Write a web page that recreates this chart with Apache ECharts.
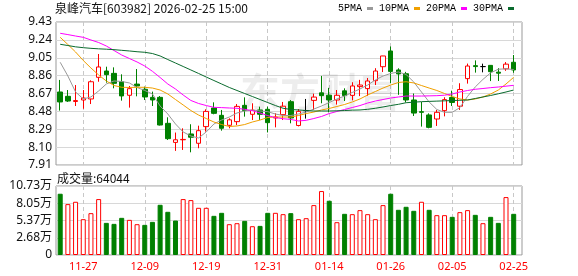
<!DOCTYPE html>
<html><head><meta charset="utf-8">
<script src="https://cdn.jsdelivr.net/npm/echarts@6/dist/echarts.min.js"></script>
<style>html,body{margin:0;padding:0;background:#fff}#c{width:578px;height:276px}</style>
</head><body><div id="c"></div>
<script>
const stockTitle = '泉峰汽车[603982] 2026-02-25 15:00';
const dates = ['2025-11-24','2025-11-25','2025-11-26','2025-11-27','2025-11-28','2025-12-01','2025-12-02','2025-12-03','2025-12-04','2025-12-05',
'2025-12-08','2025-12-09','2025-12-10','2025-12-11','2025-12-12','2025-12-15','2025-12-16','2025-12-17','2025-12-18','2025-12-19',
'2025-12-22','2025-12-23','2025-12-24','2025-12-25','2025-12-26','2025-12-29','2025-12-30','2025-12-31','2026-01-05','2026-01-06',
'2026-01-07','2026-01-08','2026-01-09','2026-01-12','2026-01-13','2026-01-14','2026-01-15','2026-01-16','2026-01-19','2026-01-20',
'2026-01-21','2026-01-22','2026-01-23','2026-01-26','2026-01-27','2026-01-28','2026-01-29','2026-01-30','2026-02-02','2026-02-03',
'2026-02-04','2026-02-05','2026-02-06','2026-02-09','2026-02-10','2026-02-11','2026-02-12','2026-02-13','2026-02-24','2026-02-25'];
const opens = [8.686,8.640,8.585,8.601,8.612,8.842,8.909,8.884,8.796,8.651,
8.770,8.715,8.629,8.629,8.353,8.150,8.178,8.240,8.141,8.318,
8.516,8.438,8.332,8.371,8.544,8.449,8.495,8.502,8.410,8.445,
8.583,8.330,8.488,8.597,8.677,8.652,8.601,8.698,8.650,8.743,
8.722,8.806,8.955,9.122,8.920,8.880,8.601,8.477,8.442,8.399,
8.488,8.628,8.535,8.828,8.966,8.956,8.969,8.897,8.932,9.002];
const closes = [8.580,8.590,8.595,8.622,8.795,8.952,8.870,8.778,8.644,8.721,
8.750,8.633,8.601,8.335,8.190,8.178,8.182,8.205,8.275,8.480,
8.459,8.300,8.390,8.533,8.490,8.493,8.449,8.360,8.420,8.535,
8.410,8.480,8.488,8.632,8.647,8.601,8.651,8.648,8.750,8.760,
8.803,8.909,9.069,8.905,8.878,8.601,8.462,8.470,8.310,8.470,
8.605,8.575,8.712,8.962,8.956,8.956,8.902,8.886,8.982,8.920];
const lows = [8.488,8.580,8.537,8.508,8.558,8.795,8.785,8.725,8.594,8.520,
8.640,8.601,8.537,8.330,8.176,8.060,8.070,8.045,8.088,8.265,
8.449,8.275,8.300,8.335,8.424,8.388,8.388,8.256,8.310,8.388,
8.353,8.320,8.403,8.495,8.566,8.470,8.552,8.590,8.597,8.642,
8.645,8.760,8.898,8.779,8.656,8.576,8.431,8.318,8.300,8.325,
8.427,8.537,8.495,8.775,8.892,8.895,8.802,8.803,8.911,8.890];
const highs = [8.814,8.707,8.760,8.707,8.810,9.090,8.955,8.948,8.874,8.750,
8.930,8.743,8.690,8.643,8.417,8.255,8.300,8.343,8.328,8.502,
8.576,8.495,8.406,8.558,8.629,8.566,8.530,8.530,8.460,8.580,
8.600,8.505,8.612,8.668,8.857,8.730,8.707,8.725,8.790,8.815,
8.835,8.939,9.070,9.170,8.938,8.900,8.670,8.580,8.459,8.495,
8.630,8.700,8.779,8.988,9.022,8.987,8.970,8.940,9.004,9.079];
const volumes = [95270,79130,82780,55700,65080,86940,49980,48420,57790,54660,
47900,46850,51540,78090,67160,53620,86940,85380,73400,73400,
60910,65600,47900,49460,53100,44770,45290,65600,65600,63510,
65080,55700,57270,77570,99440,84340,51020,64030,63510,69760,
63510,55700,77570,95270,70280,74970,68720,82780,70280,61950,
61950,59350,66640,69760,62470,49460,59350,49980,90060,64044];
const ma5 = [9.002,8.856,8.686,8.612,8.633,8.697,8.771,8.803,8.798,8.782,
8.734,8.702,8.665,8.537,8.452,8.346,8.261,8.218,8.197,8.261,
8.346,8.388,8.420,8.463,8.484,8.495,8.484,8.477,8.452,8.436,
8.436,8.452,8.473,8.505,8.537,8.574,8.612,8.643,8.681,8.718,
8.760,8.814,8.856,8.883,8.899,8.872,8.792,8.686,8.580,8.500,
8.470,8.470,8.520,8.640,8.740,8.820,8.890,8.928,8.932,8.925];
const ma10 = [9.267,9.191,9.111,9.021,8.941,8.867,8.803,8.755,8.736,8.734,
8.736,8.736,8.728,8.707,8.665,8.606,8.548,8.489,8.441,8.404,
8.367,8.340,8.319,8.325,8.340,8.367,8.388,8.415,8.420,8.420,
8.420,8.436,8.457,8.473,8.495,8.511,8.532,8.553,8.580,8.612,
8.654,8.691,8.728,8.760,8.787,8.795,8.782,8.755,8.728,8.702,
8.670,8.638,8.612,8.601,8.612,8.633,8.665,8.707,8.771,8.842];
const ma20 = [9.310,9.296,9.281,9.267,9.239,9.212,9.175,9.127,9.079,9.042,
9.005,8.962,8.906,8.840,8.771,8.718,8.654,8.596,8.564,8.542,
8.523,8.520,8.516,8.513,8.502,8.487,8.463,8.435,8.414,8.402,
8.394,8.378,8.385,8.404,8.426,8.457,8.479,8.500,8.521,8.542,
8.569,8.590,8.606,8.622,8.633,8.643,8.643,8.643,8.645,8.647,
8.652,8.665,8.686,8.702,8.715,8.723,8.732,8.739,8.748,8.757];
const ma30 = [9.193,9.180,9.166,9.157,9.150,9.145,9.141,9.136,9.129,9.122,
9.114,9.108,9.095,9.069,9.031,8.994,8.957,8.920,8.883,8.845,
8.808,8.771,8.734,8.702,8.670,8.638,8.606,8.574,8.542,8.513,
8.500,8.495,8.489,8.484,8.484,8.484,8.486,8.489,8.493,8.495,
8.502,8.513,8.527,8.542,8.555,8.572,8.578,8.583,8.586,8.589,
8.592,8.595,8.598,8.601,8.617,8.633,8.649,8.667,8.686,8.707];
const priceTicks = ['7.91','8.10','8.29','8.48','8.67','8.86','9.05','9.24','9.43'];
const volumeTicks = ['0','2.68万','5.37万','8.05万','10.73万'];
const priceMin = 7.91, priceMax = 9.43, volumeMax = 107300;
const maNames = ['5PMA','10PMA','20PMA','30PMA'];

const RED = '#ff0000', GREEN = '#008000';
const maColors = ['#999999', '#f0a000', '#ff00ff', '#0a6b2e'];
const FONT = "'Noto Sans','Noto Sans CJK SC',sans-serif";

const candleData = dates.map((d, i) => {
  const item = { value: [opens[i], closes[i], lows[i], highs[i]] };
  if (opens[i] === closes[i]) {
    item.itemStyle = { color: '#000', color0: '#000', borderColor: '#000', borderColor0: '#000', borderColorDoji: '#000' };
  }
  return item;
});
const volData = volumes.map((v, i) => {
  const up = i === 0 ? closes[i] >= opens[i] : closes[i] >= closes[i - 1];
  return { value: v, itemStyle: up ? { color: '#fff', borderColor: RED, borderWidth: 1 } : { color: GREEN, borderColor: GREEN, borderWidth: 1 } };
});
const labelIdx = (i) => i % 8 === 3;
const dashed = { show: true, interval: labelIdx, lineStyle: { color: '#c8c8c8', type: [4, 3], width: 1 } };

const maSeries = [ma5, ma10, ma20, ma30].map((arr, k) => ({
  name: maNames[k], type: 'line', xAxisIndex: 1, yAxisIndex: 1, data: arr,
  symbol: 'none', showSymbol: false, clip: false, z: 4,
  lineStyle: { width: 1, color: maColors[k] }, itemStyle: { color: maColors[k] }
}));

const chart = echarts.init(document.getElementById('c'), null, { renderer: 'canvas' });
chart.setOption({
  animation: false,
  backgroundColor: '#fff',
  title: [
    { text: stockTitle, left: 55, top: 2, padding: 0, textStyle: { fontSize: 12, fontWeight: 'normal', color: '#111', fontFamily: "'Noto Sans CJK SC',sans-serif", lineHeight: 13 } },
    { text: '成交量:' + volumes[volumes.length - 1], left: 57, top: 171.5, padding: 0, textStyle: { fontSize: 12, fontWeight: 'normal', color: '#111', fontFamily: "'Noto Sans CJK SC',sans-serif", lineHeight: 13 } }
  ],
  legend: {
    data: maNames, left: 338, top: 3, padding: 0, align: 'right', icon: 'rect',
    itemWidth: 6, itemHeight: 3, itemGap: 6,
    textStyle: { fontSize: 10, color: '#000', fontFamily: "'Liberation Mono',monospace", lineHeight: 11 }
  },
  graphic: [
    { type: 'text', left: 240, top: 72, z: 1, silent: true,
      style: { text: '东方财富', fontSize: 40, fontWeight: 'bold', fontFamily: "'Noto Sans CJK SC',sans-serif", fill: 'rgba(0,0,0,0.07)' } }
  ],
  grid: [
    { left: 56, top: 22, width: 466, height: 143, show: true, borderColor: '#999', borderWidth: 1, backgroundColor: 'transparent' },
    { left: 60.2, top: 22, width: 453.5, height: 143 },
    { left: 56, top: 186, width: 466, height: 69, show: true, borderColor: '#999', borderWidth: 1, backgroundColor: 'transparent' },
    { left: 60.2, top: 186, width: 453.5, height: 69 }
  ],
  xAxis: [
    { gridIndex: 0, type: 'value', min: 0, max: 1, show: false },
    { gridIndex: 1, type: 'category', data: dates, boundaryGap: false, axisLine: { show: false }, axisTick: { show: false }, axisLabel: { show: false }, splitLine: dashed },
    { gridIndex: 2, type: 'value', min: 0, max: 1, show: false },
    { gridIndex: 3, type: 'category', data: dates, boundaryGap: false, axisLine: { show: false }, axisTick: { show: false },
      axisLabel: { show: true, interval: labelIdx, color: RED, fontSize: 11, margin: 6, fontFamily: FONT, formatter: (v) => v.slice(5) },
      splitLine: dashed }
  ],
  yAxis: [
    { gridIndex: 0, type: 'value', min: 0, max: 8, interval: 1, axisLine: { show: false }, axisTick: { show: false },
      axisLabel: { formatter: (v) => priceTicks[v], color: '#111', fontSize: 12, margin: 4, fontFamily: FONT },
      splitLine: { show: true, lineStyle: { color: '#d8d8d8', width: 1 } } },
    { gridIndex: 1, type: 'value', min: priceMin, max: priceMax, show: false, splitLine: { show: false } },
    { gridIndex: 2, type: 'value', min: 0, max: 4, interval: 1, axisLine: { show: false }, axisTick: { show: false },
      axisLabel: { formatter: (v) => volumeTicks[v], color: '#111', fontSize: 12, margin: 4, fontFamily: FONT },
      splitLine: { show: true, lineStyle: { color: '#d8d8d8', width: 1 } } },
    { gridIndex: 3, type: 'value', min: 0, max: volumeMax, show: false, splitLine: { show: false } }
  ],
  series: [
    { type: 'candlestick', xAxisIndex: 1, yAxisIndex: 1, data: candleData, barWidth: 5, clip: false, z: 3,
      itemStyle: { color: '#fff', color0: GREEN, borderColor: RED, borderColor0: GREEN, borderWidth: 1 } },
    ...maSeries,
    { type: 'bar', xAxisIndex: 3, yAxisIndex: 3, data: volData, barWidth: 5, clip: false, z: 3 }
  ]
});
</script>
</body></html>
